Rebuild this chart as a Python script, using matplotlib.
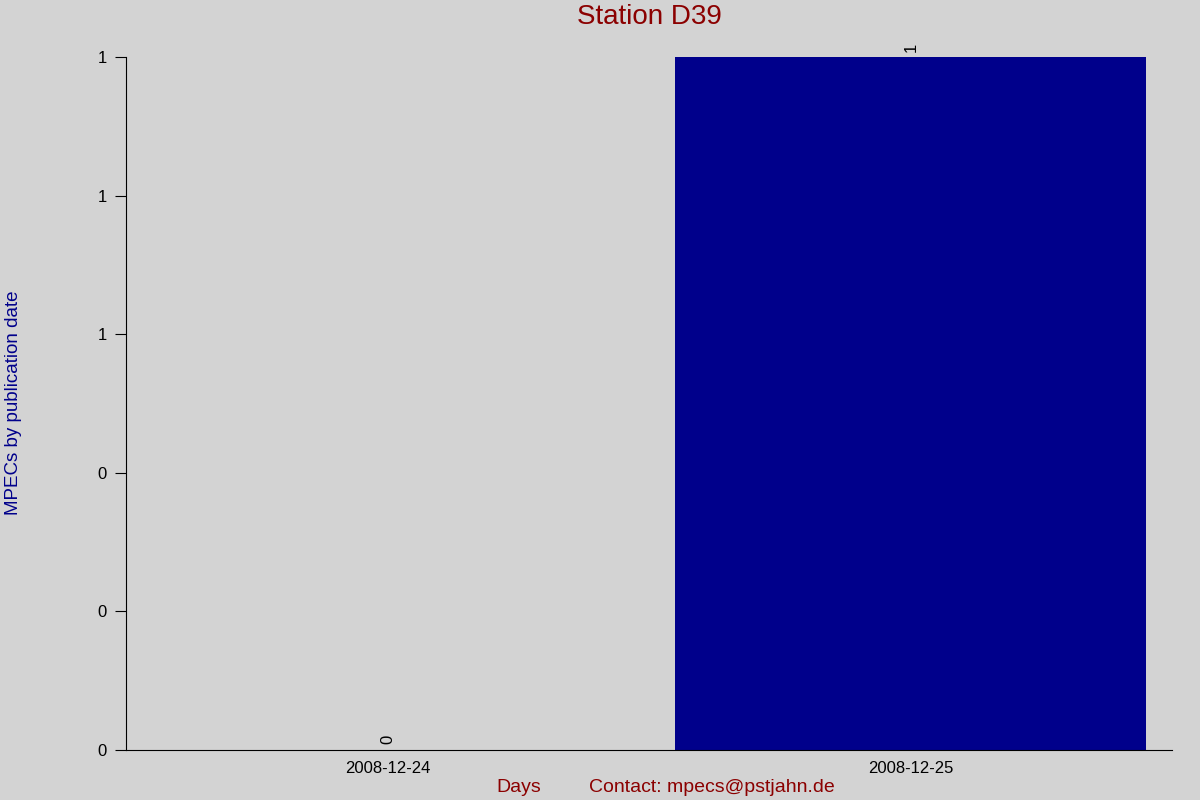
import matplotlib
matplotlib.use("Agg")
import matplotlib.pyplot as plt
from matplotlib.ticker import FormatStrFormatter

# data
days = ["2008-12-24", "2008-12-25"]
counts = [0, 1]
station = "D39"

plt.rcParams['font.family'] = ['Liberation Sans', 'DejaVu Sans']

bg = '#d3d3d3'
fig = plt.figure(figsize=(12, 8), dpi=100, facecolor=bg)
ax = fig.add_axes([0.105, 0.0625, 0.872, 0.866])
ax.set_facecolor(bg)

x = range(len(days))
bars = ax.bar(x, counts, width=0.9, color='#00008b')
for xi, c in zip(x, counts):
    ax.annotate("%d" % c, (xi, c), xytext=(0, 4), textcoords='offset points',
                rotation=90, ha='center', va='bottom', fontsize=12)

ax.set_xlim(-0.5, len(days) - 0.5)
ax.set_ylim(0, max(counts))
ax.set_xticks(list(x))
ax.set_xticklabels(days, fontsize=12)
ax.set_yticks([0, 0.2, 0.4, 0.6, 0.8, 1.0])
ax.yaxis.set_major_formatter(FormatStrFormatter('%.0f'))
ax.tick_params(axis='y', labelsize=12, length=8, direction='out', pad=6)
ax.tick_params(axis='x', length=0, pad=8)
for s in ['top', 'right']:
    ax.spines[s].set_visible(False)

ax.set_title("Station " + station, color='#8b0000', fontsize=20, pad=24)
fig.text(0.004, 0.497, "MPECs by publication date", rotation=90, color='#00008b',
         fontsize=13.5, ha='left', va='center')
fig.text(0.432, 0.016, "Days", color='#8b0000', fontsize=14, ha='center', va='center')
fig.text(0.491, 0.016, "Contact: mpecs@pstjahn.de", color='#8b0000', fontsize=14,
         ha='left', va='center')

fig.savefig("out.png", dpi=100, facecolor=bg)
